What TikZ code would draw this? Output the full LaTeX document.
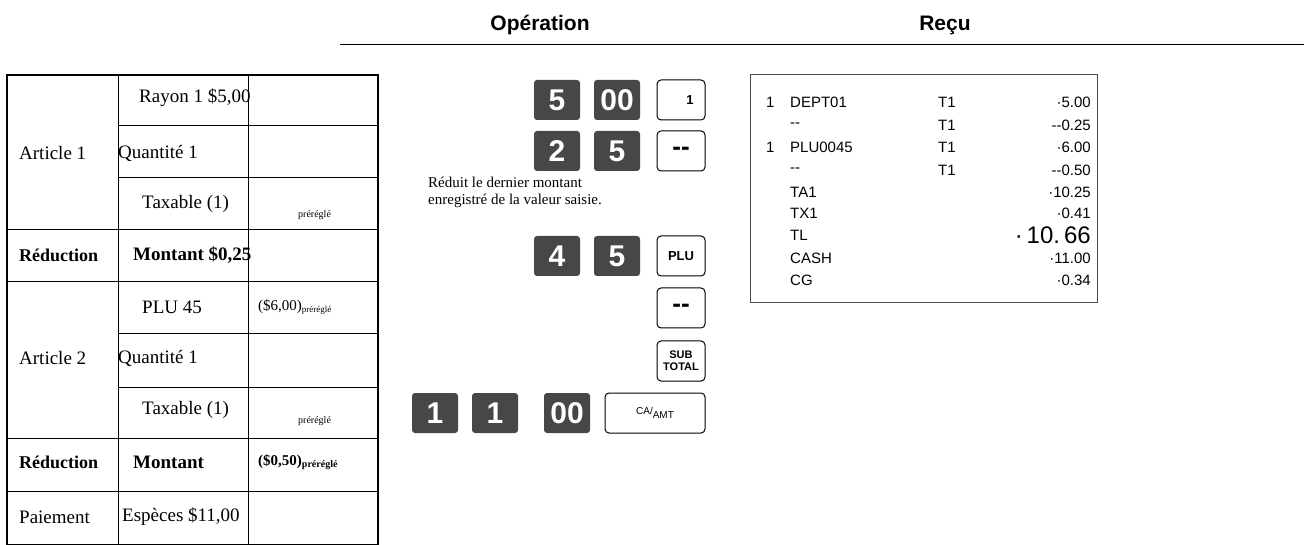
\documentclass[tikz,border=0pt]{standalone}
\usepackage{fontspec}
\setmainfont{Liberation Serif}
\newfontfamily\hsans{Liberation Sans}
\begin{document}
\begin{tikzpicture}[x=1pt,y=-1pt,
  tb/.style={anchor=west,inner sep=0pt,font=\fontsize{19}{21}\selectfont},
  sm/.style={anchor=west,inner sep=0pt,font=\fontsize{10}{11}\selectfont},
  dkey/.style={fill=black!72,rounded corners=3pt,minimum width=46pt,minimum height=40pt,inner sep=0pt,text=white,font=\hsans\bfseries\fontsize{30}{30}\selectfont},
  wkey/.style={draw,line width=1pt,rounded corners=4pt,minimum width=48pt,minimum height=40pt,inner sep=0pt,font=\hsans\bfseries\fontsize{13}{13}\selectfont},
  rc/.style={inner sep=0pt,font=\hsans\fontsize{15}{15}\selectfont},
  hd/.style={inner sep=0pt,font=\hsans\bfseries\fontsize{21}{21}\selectfont}]
\useasboundingbox (0,0) rectangle (1304,545);
% headers
\node[hd] (h1) at (540,25) {Opération};
\node[hd] (h2) at (945,25) {Reçu};
\draw[line width=1pt] (340,45) -- (1304,45);
% table
\draw[line width=1.4pt] (7,75) rectangle (378,545);
\draw (118,75) -- (118,545) (248,75) -- (248,545);
\draw (118,125) -- (378,125) (118,177) -- (378,177) (7,229) -- (378,229)
      (7,281) -- (378,281) (118,333) -- (378,333) (118,387) -- (378,387)
      (7,438) -- (378,438) (7,491) -- (378,491);
\node[tb] (a1) at (19,153) {Article 1};
\node[tb] (r1) at (139,98) {Rayon 1 \$5,00};
\node[tb] (q1) at (118,153) {Quantité 1};
\node[tb] (t1) at (142,204) {Taxable (1)};
\node[sm] (p1) at (298,215) {préréglé};
\node[tb,font=\bfseries\fontsize{18}{20}\selectfont] (rd1) at (19,255) {Réduction};
\node[tb,font=\bfseries\fontsize{19}{21}\selectfont] (m1) at (133,255) {Montant \$0,25};
\node[tb] (a2) at (19,358) {Article 2};
\node[tb] (pl) at (142,307) {PLU 45};
\node[tb,font=\fontsize{15}{17}\selectfont] (pp) at (258,307) {(\$6,00)\textsubscript{\fontsize{9}{9}\selectfont préréglé}};
\node[tb] (q2) at (118,358) {Quantité 1};
\node[tb] (t2) at (142,410) {Taxable (1)};
\node[sm] (p2) at (298,421) {préréglé};
\node[tb,font=\bfseries\fontsize{18}{20}\selectfont] (rd2) at (19,462) {Réduction};
\node[tb,font=\bfseries\fontsize{19}{21}\selectfont] (m2) at (133,462) {Montant};
\node[tb,font=\bfseries\fontsize{15}{17}\selectfont] (mm) at (258,462) {(\$0,50)\textsubscript{\fontsize{10}{10}\selectfont préréglé}};
\node[tb] (pa) at (19,517) {Paiement};
\node[tb] (es) at (122,517) {Espèces \$11,00};
% keys
\node[dkey] (k5) at (557,100) {5};
\node[dkey] (k00) at (617,100) {00};
\node[wkey] (kd1) at (681,100) {\hspace*{18pt}1};
\node[dkey] (k2) at (557,151) {2};
\node[dkey] (k5b) at (617,151) {5};
\node[wkey,font=\hsans\bfseries\fontsize{26}{26}\selectfont] (km1) at (681,151) {--};
\node[anchor=west,inner sep=0pt,align=left,font=\fontsize{15}{17}\selectfont] (txt) at (428,192) {Réduit le dernier montant\\enregistré de la valeur saisie.};
\node[dkey] (k4) at (557,256) {4};
\node[dkey] (k5c) at (617,256) {5};
\node[wkey] (kplu) at (681,256) {PLU};
\node[wkey,font=\hsans\bfseries\fontsize{26}{26}\selectfont] (km2) at (681,308) {--};
\node[wkey,align=center,font=\hsans\bfseries\fontsize{11}{12}\selectfont] (ksub) at (681,361) {SUB\\TOTAL};
\node[dkey] (k1a) at (435,413) {1};
\node[dkey] (k1b) at (495,413) {1};
\node[dkey] (k00b) at (567,413) {00};
\node[wkey,minimum width=100pt,font=\hsans\fontsize{10}{10}\selectfont] (kca) at (655,413) {CA/\raisebox{-5pt}{\shortstack{AMT\\[-2pt]}}};
% receipt
\draw[line width=1pt,black!70] (750,75) rectangle (1097,303);
\foreach \y/\n/\a/\t/\v/\id in {102/1/DEPT01/T1/·5.00/r1,125//--/T1/--0.25/r2,147/1/PLU0045/T1/·6.00/r3,170//--/T1/--0.50/r4,192//TA1//·10.25/r5,213//TX1//·0.41/r6,258//CASH//·11.00/r8,280//CG//·0.34/r9}{
  \node[rc,anchor=west] (\id n) at (766,\y) {\n};
  \node[rc,anchor=west] (\id a) at (790,\y) {\a};
  \node[rc,anchor=west] (\id t) at (938,\y) {\t};
  \node[rc,anchor=east] (\id v) at (1091,\y) {\v};
}
\node[rc,anchor=west] (r7a) at (790,235) {TL};
\node[rc,anchor=east,font=\hsans\fontsize{24}{24}\selectfont] (r7v) at (1091,235) {·\,10.\,66};
\end{tikzpicture}
\end{document}
